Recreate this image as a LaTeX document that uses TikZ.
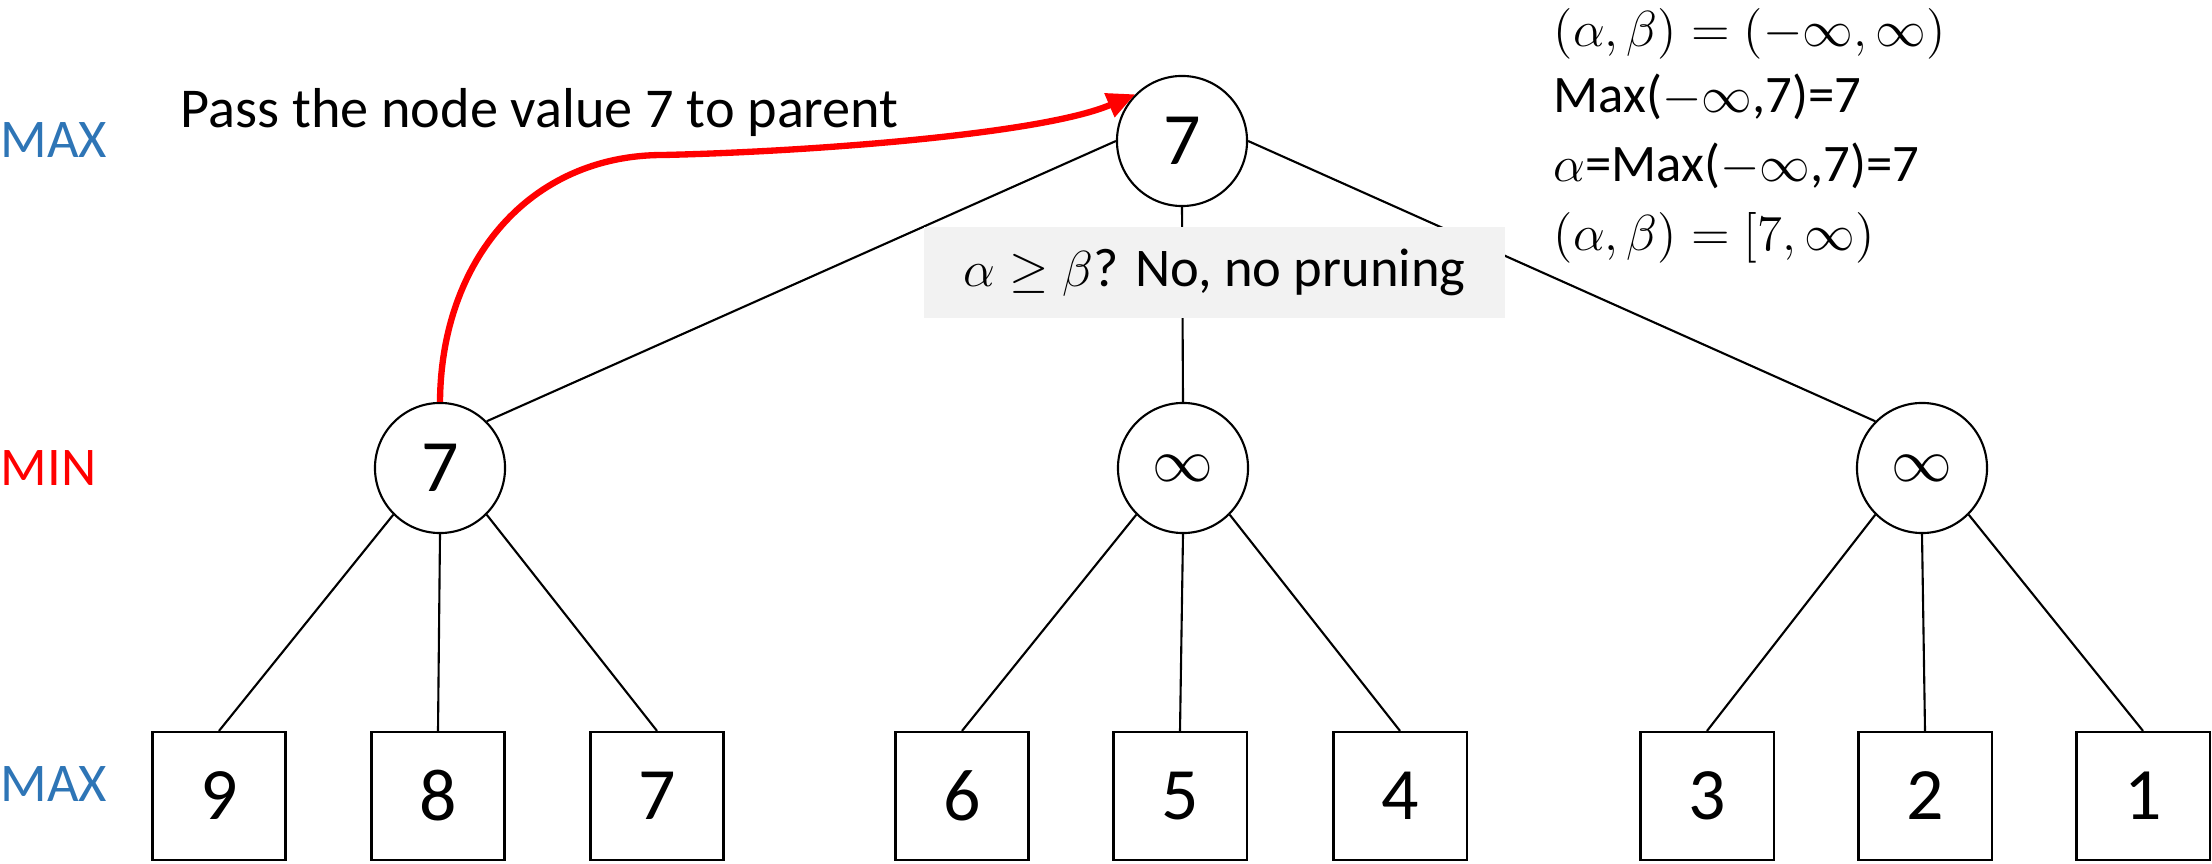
\documentclass[tikz,border=0pt]{standalone}
\usepackage{fontspec}
\setmainfont{Carlito}
\usetikzlibrary{arrows.meta}
\definecolor{maxblue}{RGB}{46,117,182}
\definecolor{boxgray}{RGB}{242,242,242}
\begin{document}
\begin{tikzpicture}[x=0.01cm,y=-0.01cm,
  mnode/.style={circle,draw,line width=0.6pt,minimum size=1.3cm,inner sep=0pt,font=\fontsize{21}{25}\selectfont},
  leaf/.style={rectangle,draw,line width=0.6pt,minimum width=1.33cm,minimum height=1.28cm,inner sep=0pt,font=\fontsize{21}{25}\selectfont},
  edge/.style={line width=0.6pt},
  lvl/.style={anchor=west,inner sep=0pt,font=\fontsize{15.5}{18}\selectfont},
  txt/.style={anchor=base west,inner sep=0pt,font=\fontsize{16}{19}\selectfont},
  rtxt/.style={anchor=base west,inner sep=0pt,font=\fontsize{15}{18}\selectfont},
  rmath/.style={anchor=base west,inner sep=0pt,font=\fontsize{15.6}{18}\selectfont}]
\useasboundingbox (0,0) rectangle (2212,864);

% level labels
\node[lvl,text=maxblue] (l1) at (0,140) {MAX};
\node[lvl,text=red] (l2) at (0,468) {MIN};
\node[lvl,text=maxblue] (l3) at (0,784) {MAX};

% tree nodes
\node[mnode] (root) at (1182,141) {7};
\node[mnode] (m1) at (440,468) {7};
\node[mnode] (m2) at (1183,468) {\fontsize{18}{20}\selectfont$\infty$};
\node[mnode] (m3) at (1922,468) {\fontsize{18}{20}\selectfont$\infty$};

\node[leaf] (a1) at (219,796) {9};
\node[leaf] (a2) at (438,796) {8};
\node[leaf] (a3) at (657,796) {7};
\node[leaf] (b1) at (962,796) {6};
\node[leaf] (b2) at (1180,796) {5};
\node[leaf] (b3) at (1400,796) {4};
\node[leaf] (c1) at (1707,796) {3};
\node[leaf] (c2) at (1925,796) {2};
\node[leaf] (c3) at (2143,796) {1};

% edges
\draw[edge] (root.west) -- (m1.north east);
\draw[edge] (root.south) -- (m2.north);
\draw[edge] (root.east) -- (m3.north west);
\foreach \m/\x/\y/\z in {m1/a1/a2/a3, m2/b1/b2/b3, m3/c1/c2/c3} {
  \draw[edge] (\m.south west) -- (\x.north);
  \draw[edge] (\m.south) -- (\y.north);
  \draw[edge] (\m.south east) -- (\z.north);
}

% question box
\node[fill=boxgray,minimum width=5.81cm,minimum height=0.91cm,inner sep=0pt,font=\fontsize{15.5}{18}\selectfont] (q) at (1214.5,272.5) {$\alpha\geq\beta$? No, no pruning};

% red arrow
\draw[red,line width=1.8pt,-{Triangle[length=8pt,width=7pt]}] (m1.north) .. controls (441,260) and (530,155) .. (663,155) .. controls (800,152) and (1040,135) .. (root.135);

% texts
\node[txt] (pass) at (180,128) {Pass the node value 7 to parent};
\node[rmath] (r1) at (1553,47) {$(\alpha,\beta)=(-\infty,\infty)$};
\node[rtxt] (r2) at (1553,113) {Max($-\infty$,7)=7};
\node[rtxt] (r3) at (1553,182) {$\alpha$=Max($-\infty$,7)=7};
\node[rmath] (r4) at (1553,251) {$(\alpha,\beta)=[7,\infty)$};
\end{tikzpicture}
\end{document}
